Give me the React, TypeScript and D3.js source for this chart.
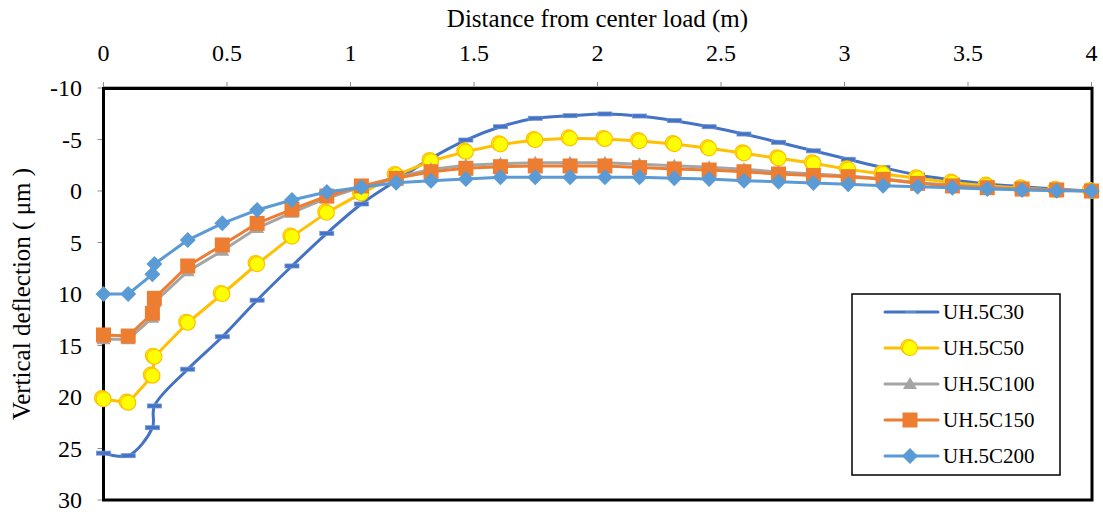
import React from "react";
import * as d3 from "d3";

const xs = [0, 0.1, 0.198, 0.206, 0.341, 0.481, 0.622, 0.763, 0.904, 1.044, 1.185, 1.326, 1.467, 1.607, 1.748, 1.889, 2.03, 2.17, 2.311, 2.452, 2.593, 2.733, 2.874, 3.015, 3.156, 3.296, 3.437, 3.578, 3.719, 3.859, 4.0];
const c30 = [25.45, 25.7, 22.98, 20.87, 17.3, 14.15, 10.6, 7.28, 4.11, 1.26, -1.0, -3.17, -4.95, -6.24, -7.06, -7.31, -7.48, -7.28, -6.83, -6.24, -5.53, -4.73, -3.9, -3.08, -2.27, -1.55, -1.07, -0.68, -0.42, -0.19, 0];
const c50 = [20.2, 20.55, 17.93, 16.09, 12.79, 10.0, 7.09, 4.43, 2.1, 0.23, -1.55, -2.91, -3.82, -4.53, -4.95, -5.11, -5.05, -4.85, -4.56, -4.14, -3.66, -3.17, -2.69, -2.1, -1.65, -1.23, -0.81, -0.52, -0.26, -0.1, 0];
const c100 = [14.4, 14.4, 12.3, 10.8, 7.8, 5.8, 3.6, 2.1, 0.7, -0.4, -1.35, -2.1, -2.5, -2.65, -2.75, -2.75, -2.75, -2.6, -2.45, -2.3, -2.1, -1.85, -1.65, -1.45, -1.2, -0.8, -0.55, -0.35, -0.2, -0.1, 0];
const c150 = [13.98, 14.08, 11.87, 10.42, 7.28, 5.24, 3.14, 1.78, 0.49, -0.49, -1.23, -1.87, -2.2, -2.36, -2.43, -2.43, -2.43, -2.27, -2.14, -2.04, -1.87, -1.65, -1.5, -1.39, -1.13, -0.74, -0.49, -0.32, -0.19, -0.1, 0];
const c200 = [10.0, 10.0, 8.09, 7.09, 4.76, 3.14, 1.84, 0.87, 0.1, -0.36, -0.81, -1.0, -1.17, -1.33, -1.33, -1.33, -1.33, -1.33, -1.24, -1.17, -1.0, -0.9, -0.78, -0.65, -0.52, -0.42, -0.32, -0.19, -0.1, -0.03, 0];

const seriesNames = ["UH.5C30", "UH.5C50", "UH.5C100", "UH.5C150", "UH.5C200"];
const xTicks = [0, 0.5, 1, 1.5, 2, 2.5, 3, 3.5, 4];
const yTicks = [-10, -5, 0, 5, 10, 15, 20, 25, 30];

type Kind = "dash" | "circle" | "triangle" | "square" | "diamond";
const styles: { color: string; kind: Kind; smooth: boolean }[] = [
  { color: "#4472C4", kind: "dash", smooth: true },
  { color: "#FFC000", kind: "circle", smooth: false },
  { color: "#A5A5A5", kind: "triangle", smooth: false },
  { color: "#ED7D31", kind: "square", smooth: false },
  { color: "#5B9BD5", kind: "diamond", smooth: false },
];
const values = [c30, c50, c100, c150, c200];

const FONT = "Liberation Serif, DejaVu Serif, serif";

function Marker({ kind, color, cx, cy }: { kind: Kind; color: string; cx: number; cy: number }) {
  switch (kind) {
    case "dash":
      return <rect x={cx - 7} y={cy - 2} width={14} height={4} fill={color} stroke="#6f93d6" strokeWidth={0.8} />;
    case "circle":
      return (
        <g>
          <circle cx={cx - 1.5} cy={cy - 1} r={7.5} fill="#FFFF00" stroke={color} strokeWidth={1.2} />
          <circle cx={cx} cy={cy} r={7.5} fill="#FFFF00" stroke={color} strokeWidth={1.2} />
        </g>
      );
    case "triangle":
      return <path d={`M${cx},${cy - 7}L${cx + 7},${cy + 5}L${cx - 7},${cy + 5}Z`} fill={color} />;
    case "square":
      return <rect x={cx - 7.5} y={cy - 7.5} width={15} height={15} fill={color} />;
    case "diamond":
      return <path d={`M${cx},${cy - 8}L${cx + 8},${cy}L${cx},${cy + 8}L${cx - 8},${cy}Z`} fill={color} />;
  }
}

export default function App() {
  const W = 1103, H = 514;
  const x = d3.scaleLinear().domain([0, 4]).range([103.5, 1091.5]);
  const y = d3.scaleLinear().domain([-10, 30]).range([88, 500]);

  const legend = { x: 852, y: 294, w: 208, h: 181 };
  const legendRow = 36;

  return (
    <svg width={W} height={H} fontFamily={FONT} style={{ position: "absolute", left: 0, top: 0, background: "#fff" }}>
      <rect x={0} y={0} width={W} height={H} fill="#fff" />
      {/* title */}
      <text x={(x(0) + x(4)) / 2} y={27} textAnchor="middle" fontSize={25} fill="#000" fontFamily={FONT}>
        Distance from center load (m)
      </text>
      {/* y title */}
      <text transform={`translate(30,${(y(-10) + y(30)) / 2}) rotate(-90)`} textAnchor="middle" fontSize={25} fill="#000" fontFamily={FONT}>
        Vertical deflection ( μm )
      </text>
      {/* x ticks */}
      {xTicks.map((t) => (
        <g key={"xt" + t}>
          <line x1={x(t)} x2={x(t)} y1={y(-10) - 6} y2={y(-10)} stroke="#8c8c8c" strokeWidth={1} />
          <text x={x(t)} y={61} textAnchor="middle" fontSize={24} fill="#000" fontFamily={FONT}>
            {String(t)}
          </text>
        </g>
      ))}
      {/* y ticks */}
      {yTicks.map((t) => (
        <g key={"yt" + t}>
          <line x1={x(0) - 6} x2={x(0)} y1={y(t)} y2={y(t)} stroke="#8c8c8c" strokeWidth={1} />
          <text x={82} y={y(t) + 8} textAnchor="end" fontSize={24} fill="#000" fontFamily={FONT}>
            {String(t)}
          </text>
        </g>
      ))}
      {/* frame */}
      <line x1={x(0) - 1} x2={x(4) + 2} y1={y(-10) - 1} y2={y(-10) - 1} stroke="#9a9a9a" strokeWidth={1.5} />
      <rect x={x(0)} y={y(-10) + 0.5} width={x(4) - x(0) + 0.5} height={y(30) - y(-10) - 0.5} fill="none" stroke="#000" strokeWidth={3} />
      {/* series */}
      {values.map((vals, si) => {
        const st = styles[si];
        const line = d3
          .line<number>()
          .x((_, i) => x(xs[i]))
          .y((v) => y(v))
          .curve(st.smooth ? d3.curveCatmullRom.alpha(0.5) : d3.curveLinear);
        return (
          <g key={"s" + si}>
            <path d={line(vals) || ""} fill="none" stroke={st.color} strokeWidth={3} strokeLinejoin="round" />
            {vals.map((v, i) => (
              <Marker key={i} kind={st.kind} color={st.color} cx={x(xs[i])} cy={y(v)} />
            ))}
          </g>
        );
      })}
      {/* legend */}
      <rect x={legend.x} y={legend.y} width={legend.w} height={legend.h} fill="#fff" stroke="#000" strokeWidth={1.5} />
      {seriesNames.map((name, i) => {
        const st = styles[i];
        const cy = legend.y + 18 + i * legendRow;
        return (
          <g key={"lg" + i}>
            <line x1={885} x2={938} y1={cy} y2={cy} stroke={st.color} strokeWidth={3} strokeLinecap="round" />
            {st.kind === "dash" ? (
              <line x1={905} x2={916} y1={cy} y2={cy} stroke="#7fa0dc" strokeWidth={1} />
            ) : (
              <Marker kind={st.kind} color={st.color} cx={910} cy={cy} />
            )}
            <text x={943} y={cy + 7} fontSize={21} fill="#000" fontFamily={FONT}>
              {name}
            </text>
          </g>
        );
      })}
    </svg>
  );
}
